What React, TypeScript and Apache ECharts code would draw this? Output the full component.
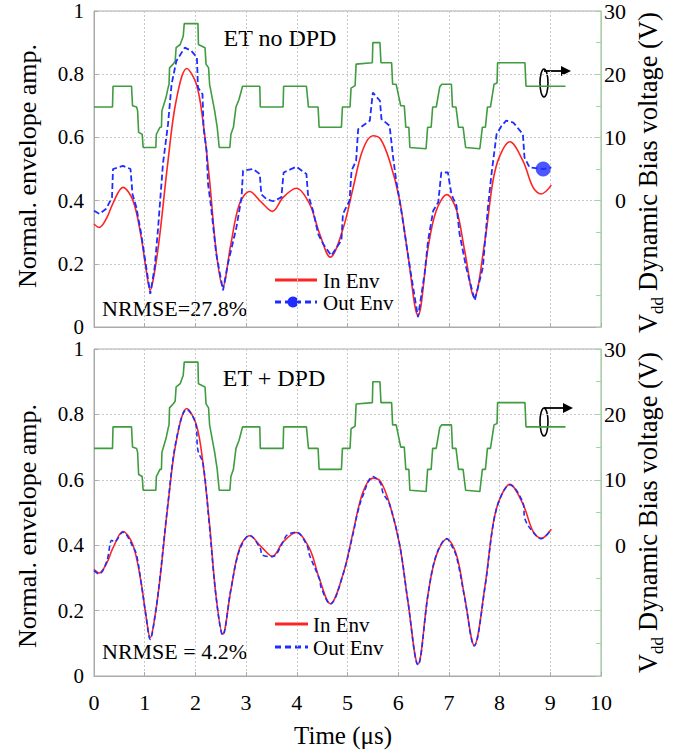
import React, { useEffect, useRef } from "react";
import * as echarts from "echarts";

// ---- Data ----
// Input envelope (same in both panels)
const inT = [0, 0.1, 0.25, 0.37, 0.57, 0.77, 0.93, 1.02, 1.11, 1.2, 1.3, 1.46, 1.62, 1.83, 2.02, 2.15, 2.28, 2.41, 2.54, 2.7, 2.87, 3.07, 3.3, 3.52, 3.73, 3.99, 4.25, 4.45, 4.66, 4.91, 5.11, 5.3, 5.5, 5.65, 5.83, 6.03, 6.19, 6.39, 6.59, 6.75, 6.96, 7.15, 7.31, 7.5, 7.71, 7.87, 8.0, 8.2, 8.46, 8.66, 8.82, 9.02];
const inV = [0.326, 0.315, 0.345, 0.39, 0.442, 0.4, 0.285, 0.19, 0.117, 0.18, 0.295, 0.526, 0.716, 0.818, 0.768, 0.65, 0.463, 0.24, 0.128, 0.263, 0.39, 0.429, 0.395, 0.366, 0.41, 0.439, 0.39, 0.295, 0.221, 0.31, 0.44, 0.56, 0.605, 0.595, 0.526, 0.4, 0.23, 0.036, 0.252, 0.368, 0.419, 0.37, 0.242, 0.094, 0.273, 0.463, 0.54, 0.586, 0.526, 0.442, 0.421, 0.449];

// Vdd dynamic bias voltage (V)
const vddT = [0, 0.365, 0.375, 0.74, 0.76, 0.84, 0.86, 0.88, 0.95, 0.97, 1.22, 1.23, 1.3, 1.33, 1.34, 1.42, 1.46, 1.48, 1.49, 1.56, 1.6, 1.62, 1.7, 1.76, 1.78, 2.05, 2.06, 2.19, 2.21, 2.26, 2.28, 2.33, 2.38, 2.43, 2.47, 2.68, 2.7, 2.75, 2.8, 2.86, 2.93, 3.27, 3.28, 3.73, 3.74, 4.19, 4.23, 4.42, 4.44, 4.88, 4.9, 5.05, 5.07, 5.15, 5.17, 5.49, 5.5, 5.64, 5.66, 5.87, 5.89, 5.96, 6.05, 6.12, 6.15, 6.21, 6.23, 6.55, 6.58, 6.65, 6.68, 6.75, 6.82, 6.86, 7.05, 7.07, 7.14, 7.19, 7.28, 7.33, 7.61, 7.66, 7.72, 7.76, 7.82, 7.89, 7.95, 7.96, 8.5, 8.52, 9.3];
const vddV = [14.8, 14.8, 18.1, 18.1, 15.0, 14.8, 14.2, 10.8, 10.5, 8.4, 8.4, 10.5, 11.6, 11.6, 14.2, 16.3, 17.8, 18.4, 21.0, 21.6, 22.0, 24.2, 24.7, 26.0, 28.0, 28.0, 24.7, 24.2, 21.6, 21.0, 18.4, 16.3, 14.2, 11.6, 8.4, 8.4, 10.5, 11.6, 14.8, 16.0, 18.1, 18.1, 14.8, 14.8, 18.1, 18.1, 14.8, 14.8, 11.6, 11.6, 14.8, 14.8, 17.8, 18.2, 21.6, 21.8, 25.0, 25.0, 21.8, 21.8, 18.4, 18.4, 15.0, 15.0, 11.6, 11.6, 8.4, 8.2, 11.6, 11.6, 14.8, 14.8, 18.0, 18.4, 18.4, 14.8, 14.8, 11.6, 11.6, 8.4, 8.2, 11.6, 11.6, 14.8, 14.8, 18.4, 18.6, 21.8, 21.8, 18.1, 18.1];

// Output envelope, ET without DPD
const outNoDpdT = [0, 0.11, 0.24, 0.355, 0.375, 0.57, 0.72, 0.76, 0.836, 0.93, 1.03, 1.11, 1.197, 1.26, 1.36, 1.46, 1.53, 1.625, 1.79, 1.92, 2.03, 2.05, 2.14, 2.16, 2.22, 2.25, 2.31, 2.41, 2.545, 2.64, 2.81, 2.91, 2.94, 3.14, 3.27, 3.3, 3.4, 3.53, 3.695, 3.74, 3.99, 4.19, 4.22, 4.32, 4.42, 4.52, 4.68, 4.88, 4.91, 5.04, 5.08, 5.17, 5.21, 5.44, 5.5, 5.64, 5.67, 5.83, 5.9, 5.96, 6.03, 6.13, 6.23, 6.39, 6.52, 6.59, 6.69, 6.79, 6.85, 6.98, 7.05, 7.15, 7.21, 7.34, 7.51, 7.67, 7.77, 7.84, 7.94, 8.04, 8.13, 8.27, 8.46, 8.49, 8.59, 8.86, 9.02];
const outNoDpdV = [0.368, 0.358, 0.374, 0.41, 0.5, 0.51, 0.5, 0.42, 0.378, 0.295, 0.189, 0.105, 0.189, 0.305, 0.516, 0.642, 0.768, 0.842, 0.884, 0.874, 0.853, 0.758, 0.737, 0.632, 0.558, 0.452, 0.379, 0.232, 0.116, 0.2, 0.316, 0.41, 0.495, 0.5, 0.484, 0.42, 0.405, 0.398, 0.41, 0.489, 0.507, 0.484, 0.42, 0.368, 0.295, 0.263, 0.226, 0.274, 0.358, 0.4, 0.495, 0.526, 0.626, 0.653, 0.742, 0.716, 0.658, 0.637, 0.537, 0.463, 0.4, 0.295, 0.189, 0.031, 0.168, 0.274, 0.368, 0.395, 0.489, 0.489, 0.42, 0.384, 0.295, 0.189, 0.084, 0.189, 0.379, 0.484, 0.61, 0.637, 0.653, 0.647, 0.61, 0.537, 0.505, 0.5, 0.505];
const outNoDpdMarker = [8.86, 0.5];

// Output envelope, ET + DPD
const outDpdT = [0, 0.1, 0.25, 0.35, 0.4, 0.57, 0.77, 0.84, 0.93, 1.02, 1.11, 1.2, 1.3, 1.46, 1.62, 1.83, 2.0, 2.05, 2.15, 2.27, 2.41, 2.54, 2.7, 2.87, 3.07, 3.28, 3.32, 3.52, 3.73, 3.8, 3.99, 4.2, 4.25, 4.45, 4.48, 4.66, 4.91, 5.11, 5.2, 5.3, 5.5, 5.65, 5.7, 5.83, 6.03, 6.19, 6.39, 6.59, 6.75, 6.96, 7.05, 7.15, 7.31, 7.5, 7.71, 7.87, 8.0, 8.2, 8.46, 8.5, 8.66, 8.82, 9.02];
const outDpdV = [0.322, 0.312, 0.35, 0.415, 0.41, 0.44, 0.395, 0.37, 0.285, 0.19, 0.112, 0.18, 0.3, 0.53, 0.72, 0.815, 0.775, 0.69, 0.65, 0.47, 0.24, 0.125, 0.265, 0.385, 0.43, 0.39, 0.37, 0.365, 0.41, 0.43, 0.44, 0.4, 0.37, 0.295, 0.27, 0.22, 0.31, 0.435, 0.5, 0.55, 0.61, 0.59, 0.56, 0.525, 0.4, 0.23, 0.034, 0.25, 0.37, 0.42, 0.4, 0.365, 0.24, 0.092, 0.27, 0.46, 0.54, 0.585, 0.53, 0.48, 0.44, 0.42, 0.448];

const panelTitles = ["ET no DPD", "ET + DPD"];
const nrmseTexts = ["NRMSE=27.8%", "NRMSE = 4.2%"];
const legendNames = ["In Env", "Out Env"];
const rightTickLabels = [0, 10, 20, 30];

const FONT = "'Liberation Serif', serif";
const RED = "#ff2424";
const BLUE = "#1f2dff";
const GREEN = "#3f9c3f";
const GRIDC = "#c8c8c8";
const FRAME = "#ababab";
const RAXIS = "#9ed89e";

const zip = (t: number[], v: number[]) => t.map((x, i) => [x, v[i]]);

function makeX(gridIndex: number, showLabel: boolean) {
  return {
    type: "value",
    gridIndex,
    min: 0,
    max: 10,
    interval: 1,
    axisLine: { show: true, lineStyle: { color: FRAME } },
    axisTick: { show: true, inside: true, length: 4, lineStyle: { color: FRAME } },
    axisLabel: { show: showLabel, fontSize: 22, fontFamily: FONT, color: "#000", margin: 15 },
    splitLine: { show: true, lineStyle: { color: GRIDC, type: [2, 2], width: 1 } },
  };
}
function makeLeftY(gridIndex: number) {
  return {
    type: "value",
    gridIndex,
    position: "left",
    min: 0,
    max: 1,
    interval: 0.2,
    axisLine: { show: true, lineStyle: { color: FRAME } },
    axisTick: { show: true, inside: true, length: 4, lineStyle: { color: FRAME } },
    axisLabel: { fontSize: 21, fontFamily: FONT, color: "#000", margin: 10, lineHeight: 20 },
    splitLine: { show: true, lineStyle: { color: GRIDC, type: [2, 2], width: 1 } },
  };
}
function makeRightY(gridIndex: number) {
  return {
    type: "value",
    gridIndex,
    position: "right",
    min: -20,
    max: 30,
    interval: 5,
    axisLine: { show: true, lineStyle: { color: RAXIS } },
    axisTick: { show: true, inside: true, length: 5, lineStyle: { color: RAXIS } },
    axisLabel: {
      fontSize: 22,
      fontFamily: FONT,
      color: "#000",
      margin: 25,
      align: "right",
      formatter: (v: number) => (rightTickLabels.indexOf(v) >= 0 ? String(v) : ""),
    },
    splitLine: { show: false },
  };
}

function panelGraphics(dy: number, idx: number) {
  const els: any[] = [];
  const txt = (x: number, y: number, text: string, size: number, align = "left", extra: any = {}) => ({
    type: "text",
    x,
    y,
    ...extra,
    style: { text, fontSize: size, fontFamily: FONT, fill: "#000", align, verticalAlign: "middle", lineHeight: size * 0.9 },
  });
  // title
  els.push(txt(idx === 0 ? 280 : 274, 38 + dy, panelTitles[idx], 24, "center"));
  // NRMSE
  els.push(txt(102, idx === 0 ? 308 : 651, nrmseTexts[idx], 22));
  // legend
  const ly1 = idx === 0 ? 280 : 624;
  const ly2 = idx === 0 ? 302 : 647;
  const lx1 = 275;
  const lx2 = idx === 0 ? 317 : 308;
  const tx = idx === 0 ? 323 : 313;
  els.push({ type: "line", shape: { x1: lx1, y1: ly1, x2: lx2, y2: ly1 }, style: { stroke: RED, lineWidth: 3 } });
  els.push({ type: "line", shape: { x1: lx1, y1: ly2, x2: lx2, y2: ly2 }, style: { stroke: BLUE, lineWidth: 3, lineDash: [6, 4] } });
  if (idx === 0) {
    els.push({ type: "circle", shape: { cx: 293, cy: ly2, r: 5.5 }, style: { fill: BLUE } });
  }
  els.push(txt(tx, ly1 + 1, legendNames[0], 21));
  els.push(txt(tx, ly2 + 1, legendNames[1], 21));
  // ellipse + arrow marking the right axis
  const ey = idx === 0 ? 83 : 422;
  const ay = idx === 0 ? 71 : 408;
  const tip = idx === 0 ? 571 : 573;
  els.push({ type: "ellipse", shape: { cx: 544, cy: ey, rx: 4, ry: 14 }, style: { fill: "none", stroke: "#000", lineWidth: 1.6 } });
  els.push({ type: "line", shape: { x1: 544, y1: ay, x2: tip - 8, y2: ay }, style: { stroke: "#000", lineWidth: 1.8 } });
  els.push({ type: "polygon", shape: { points: [[tip - 10, ay - 5], [tip, ay], [tip - 10, ay + 5]] }, style: { fill: "#000" } });
  // left axis title
  els.push(txt(27, idx === 0 ? 166 : 526, "Normal. envelope amp.", 26, "center", { rotation: Math.PI / 2 }));
  // right axis title with subscript
  const base = idx === 0 ? 333 : 673;
  els.push(txt(648, base, "V", 26.5, "left", { rotation: Math.PI / 2 }));
  els.push(txt(657, base - 19, "dd", 17, "left", { rotation: Math.PI / 2 }));
  els.push(txt(648, base - 42, "Dynamic Bias voltage (V)", 26.5, "left", { rotation: Math.PI / 2 }));
  return els;
}

export default function App() {
  const ref = useRef<HTMLDivElement>(null);
  useEffect(() => {
    document.body.style.margin = "0";
    const chart = echarts.init(ref.current!, undefined, { renderer: "svg" });
    const option: any = {
      animation: false,
      backgroundColor: "#fff",
      textStyle: { fontFamily: FONT },
      grid: [
        { left: 94, top: 10, width: 507, height: 317, show: true, borderColor: FRAME, borderWidth: 1, backgroundColor: "transparent" },
        { left: 94, top: 349, width: 507, height: 327, show: true, borderColor: FRAME, borderWidth: 1, backgroundColor: "transparent" },
      ],
      xAxis: [makeX(0, false), makeX(1, true)],
      yAxis: [makeLeftY(0), makeRightY(0), makeLeftY(1), makeRightY(1)],
      series: [
        { type: "line", name: "Vdd", xAxisIndex: 0, yAxisIndex: 1, data: zip(vddT, vddV), showSymbol: false, lineStyle: { color: GREEN, width: 1.6 }, z: 2 },
        { type: "line", name: "In Env", xAxisIndex: 0, yAxisIndex: 0, data: zip(inT, inV), smooth: 0.35, showSymbol: false, lineStyle: { color: RED, width: 1.6 }, z: 3 },
        { type: "line", name: "Out Env", xAxisIndex: 0, yAxisIndex: 0, data: zip(outNoDpdT, outNoDpdV), showSymbol: false, lineStyle: { color: BLUE, width: 1.8, type: [6, 3] }, z: 4 },
        { type: "scatter", name: "Out Env marker", xAxisIndex: 0, yAxisIndex: 0, data: [outNoDpdMarker], symbolSize: 15, itemStyle: { color: BLUE }, z: 5 },
        { type: "line", name: "Vdd DPD", xAxisIndex: 1, yAxisIndex: 3, data: zip(vddT, vddV), showSymbol: false, lineStyle: { color: GREEN, width: 1.6 }, z: 2 },
        { type: "line", name: "In Env DPD", xAxisIndex: 1, yAxisIndex: 2, data: zip(inT, inV), smooth: 0.35, showSymbol: false, lineStyle: { color: RED, width: 1.6 }, z: 3 },
        { type: "line", name: "Out Env DPD", xAxisIndex: 1, yAxisIndex: 2, data: zip(outDpdT, outDpdV), smooth: 0.35, showSymbol: false, lineStyle: { color: BLUE, width: 1.6, type: [5, 3] }, z: 4 },
      ],
      graphic: [
        ...panelGraphics(0, 0),
        ...panelGraphics(340, 1),
        {
          type: "text",
          x: 343,
          y: 735,
          style: { text: "Time (μs)", fontSize: 25, fontFamily: FONT, fill: "#000", align: "center", verticalAlign: "middle" },
        },
      ],
    };
    chart.setOption(option);
    return () => chart.dispose();
  }, []);
  return <div ref={ref} style={{ position: "absolute", left: 0, top: 0, width: 688, height: 753 }} />;
}
